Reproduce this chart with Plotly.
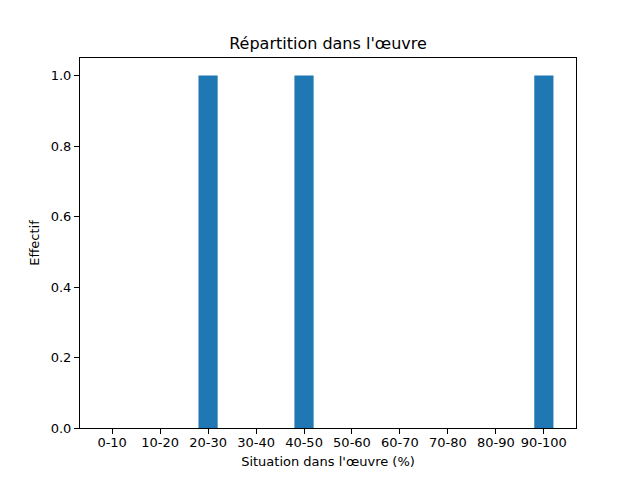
import plotly.graph_objects as go

categories = ["0-10", "10-20", "20-30", "30-40", "40-50",
              "50-60", "60-70", "70-80", "80-90", "90-100"]
effectifs = [0, 0, 1, 0, 1, 0, 0, 0, 0, 1]

fig = go.Figure()

fig.add_trace(go.Bar(
    x=list(range(len(categories))),
    y=effectifs,
    width=0.4,
    marker=dict(color="#1f77b4", line=dict(width=0)),
))

axis_style = dict(
    showline=True, linecolor="black", linewidth=1, mirror=True,
    ticks="outside", ticklen=5, tickwidth=1, tickcolor="black",
    showgrid=False, zeroline=False,
    tickfont=dict(size=13, color="black"),
)

fig.update_xaxes(
    range=[-0.67, 9.67],
    tickmode="array",
    tickvals=list(range(len(categories))),
    ticktext=categories,
    ticklabelstandoff=-3,
    title=dict(text="Situation dans l'œuvre (%)", font=dict(size=13, color="black"), standoff=8),
    **axis_style,
)
fig.update_yaxes(
    range=[0, 1.05],
    tickmode="array",
    tickvals=[0, 0.2, 0.4, 0.6, 0.8, 1.0],
    ticktext=["0.0", "0.2", "0.4", "0.6", "0.8", "1.0"],
    title=dict(text="Effectif", font=dict(size=13, color="black"), standoff=8),
    **axis_style,
)

# the page body has an 8px margin, so everything is pulled up/left by 8px
fig.update_layout(
    width=640, height=480,
    margin=dict(l=72, r=72, t=50, b=60),
    paper_bgcolor="white", plot_bgcolor="white",
    font=dict(family="DejaVu Sans", color="black"),
    title=dict(text="Répartition dans l'œuvre", xref="container", x=320 / 640,
               xanchor="center", y=1 - 35 / 480, yanchor="middle",
               font=dict(size=16)),
    showlegend=False,
)

fig.write_html("out.html")
